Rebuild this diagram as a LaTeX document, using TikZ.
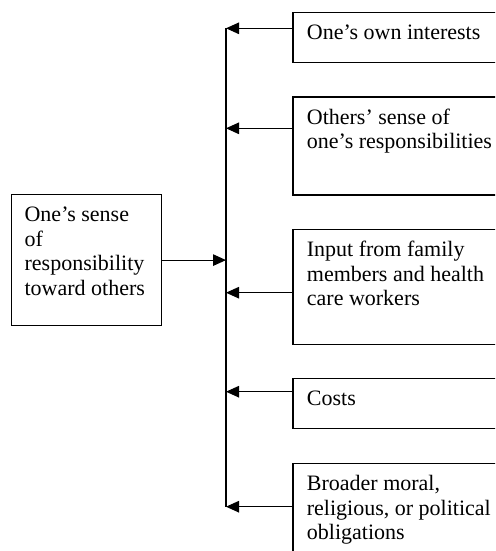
\documentclass[tikz,border=0pt]{standalone}
\usepackage{fontspec}
\setmainfont{Liberation Serif}
\usetikzlibrary{arrows.meta,positioning}

\begin{document}
\begin{tikzpicture}[
  x=1pt, y=-1pt,
  factor/.style={draw, line width=1.2pt, anchor=north west, align=flush left, text width=190pt, inner xsep=14pt, inner ysep=0pt, text height=27pt, font=\fontsize{22}{24.6}\selectfont},
  self/.style={factor, text width=123pt, inner xsep=13.5pt},
  arrow/.style={-{Triangle[length=13pt, width=11.5pt]}, line width=1.2pt},
]
\useasboundingbox (0,0) rectangle (495,551);
\clip (0,0) rectangle (495,551);

% influences on the right
\node[factor, text depth=22.4pt] (own) at (292.3,12.3) {One’s own interests};
\node[factor, text depth=71pt, below=33.5pt of own.south west, anchor=north west] (others) {Others’ sense of\\one’s responsibilities};
\node[factor, text depth=87.4pt, below=33.5pt of others.south west, anchor=north west] (input) {Input from family\\members and health\\care workers};
\node[factor, text depth=23pt, below=33.5pt of input.south west, anchor=north west] (costs) {Costs};
\node[factor, text depth=100pt, below=33.5pt of costs.south west, anchor=north west] (broad) {Broader moral,\\religious, or political\\obligations};

% the one on the left
\node[self, text depth=104pt] (sense) at (10.5,194) {One’s sense\\of\\responsibility\\toward others};

% where the arrows meet the line
\coordinate (in1) at (226,28.3);
\coordinate (in2) at (226,128.3);
\coordinate (in3) at (226,292.7);
\coordinate (in4) at (226,391.7);
\coordinate (in5) at (226,506.7);

\draw[line width=1.2pt] (in1) -- (in5);
\draw[arrow] (in1 -| own.west) -- (in1);
\draw[arrow] (in2 -| others.west) -- (in2);
\draw[arrow] (in3 -| input.west) -- (in3);
\draw[arrow] (in4 -| costs.west) -- (in4);
\draw[arrow] (in5 -| broad.west) -- (in5);
\draw[arrow] (sense.east) -- (sense.east -| in1);

\end{tikzpicture}
\end{document}
